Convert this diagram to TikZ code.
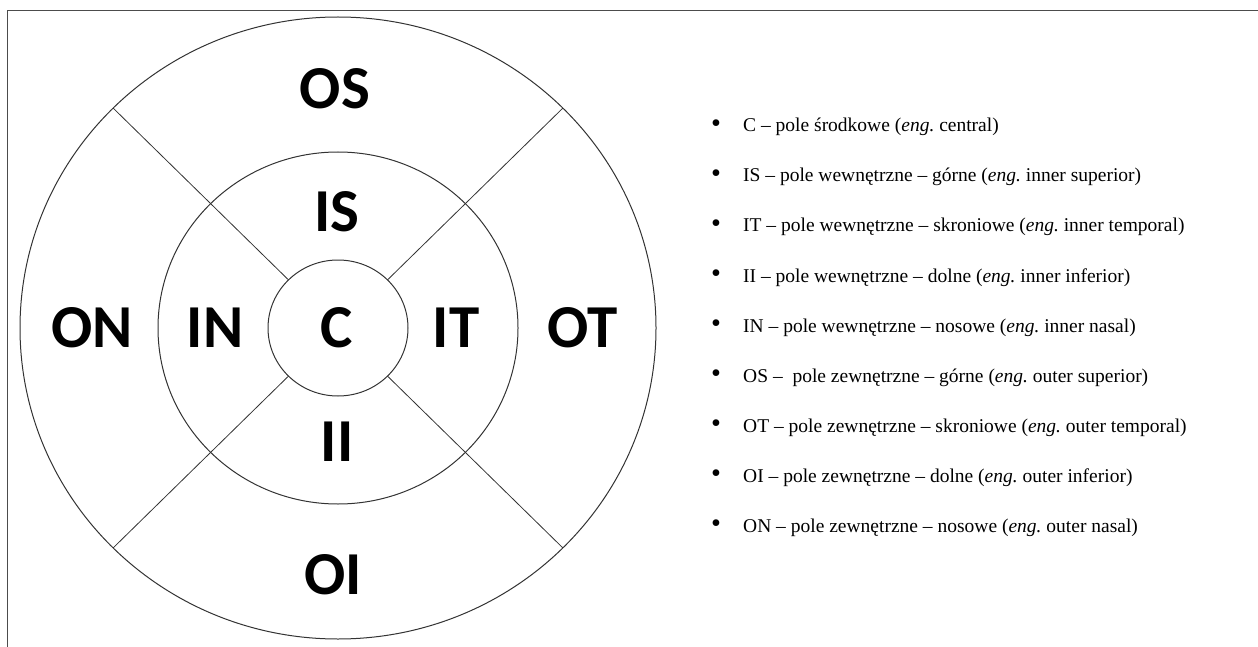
\documentclass[tikz,border=0pt]{standalone}
\usepackage{fontspec}
\usetikzlibrary{calc}
\setmainfont{Liberation Serif}
\newfontfamily\labfont{Carlito}
\frenchspacing
\begin{document}
\begin{tikzpicture}[x=1pt,y=-1pt,
  ring/.style={draw=black!80, line width=1pt},
  spoke/.style={draw=black!80, line width=0.8pt},
  field/.style={inner sep=0pt, font=\labfont\bfseries\fontsize{61}{66}\selectfont},
  item/.style={anchor=base west, inner sep=0pt, font=\fontsize{19.5}{22}\selectfont},
  frame/.style={draw=black!70, line width=1pt}]
\useasboundingbox (0,0) rectangle (1258,647);
\draw[frame] (1262,11) -- (7,11) -- (7,651);

% centre of the grid
\coordinate (O) at (338,328);

% three concentric rings
\draw[ring] (O) ellipse [x radius=318, y radius=311];
\draw[ring] (O) ellipse [x radius=180, y radius=176];
\draw[ring] (O) ellipse [x radius=70, y radius=68];

% diagonal spokes from the central field to the outer ring
\foreach \a [count=\i] in {45,135,225,315} {
  \coordinate (s\i) at ($(O)+({70*cos(\a)},{-68*sin(\a)})$);
  \coordinate (e\i) at ($(O)+({318*cos(\a)},{-311*sin(\a)})$);
  \draw[spoke] (s\i) -- (e\i);
}

% field labels
\node[field] (OS) at (335,89) {OS};
\node[field] (IS) at (337,212) {IS};
\node[field] (C)  at (337,328) {C};
\node[field] (IN) at (215,328) {IN};
\node[field] (IT) at (456,328) {IT};
\node[field] (ON) at (92,328)  {ON};
\node[field] (OT) at (583,328) {OT};
\node[field] (II) at (337,442) {II};
\node[field] (OI) at (333,575) {OI};

% legend
\newcommand{\legitem}[3]{\node[item] (#1) at (711,#2) {\makebox[32pt][l]{\raisebox{-0.5pt}{\scalebox{1.45}{\textbullet}}}#3};}
\legitem{lC}{132}{C – pole środkowe (\textit{eng.} central)}
\legitem{lIS}{182}{IS – pole wewnętrzne – górne (\textit{eng.} inner superior)}
\legitem{lIT}{232}{IT – pole wewnętrzne – skroniowe (\textit{eng.} inner temporal)}
\legitem{lII}{282}{II – pole wewnętrzne – dolne (\textit{eng.} inner inferior)}
\legitem{lIN}{332}{IN – pole wewnętrzne – nosowe (\textit{eng.} inner nasal)}
\legitem{lOS}{382}{OS – \ pole zewnętrzne – górne (\textit{eng.} outer superior)}
\legitem{lOT}{432}{OT – pole zewnętrzne – skroniowe (\textit{eng.} outer temporal)}
\legitem{lOI}{482}{OI – pole zewnętrzne – dolne (\textit{eng.} outer inferior)}
\legitem{lON}{532}{ON – pole zewnętrzne – nosowe (\textit{eng.} outer nasal)}
\end{tikzpicture}
\end{document}
